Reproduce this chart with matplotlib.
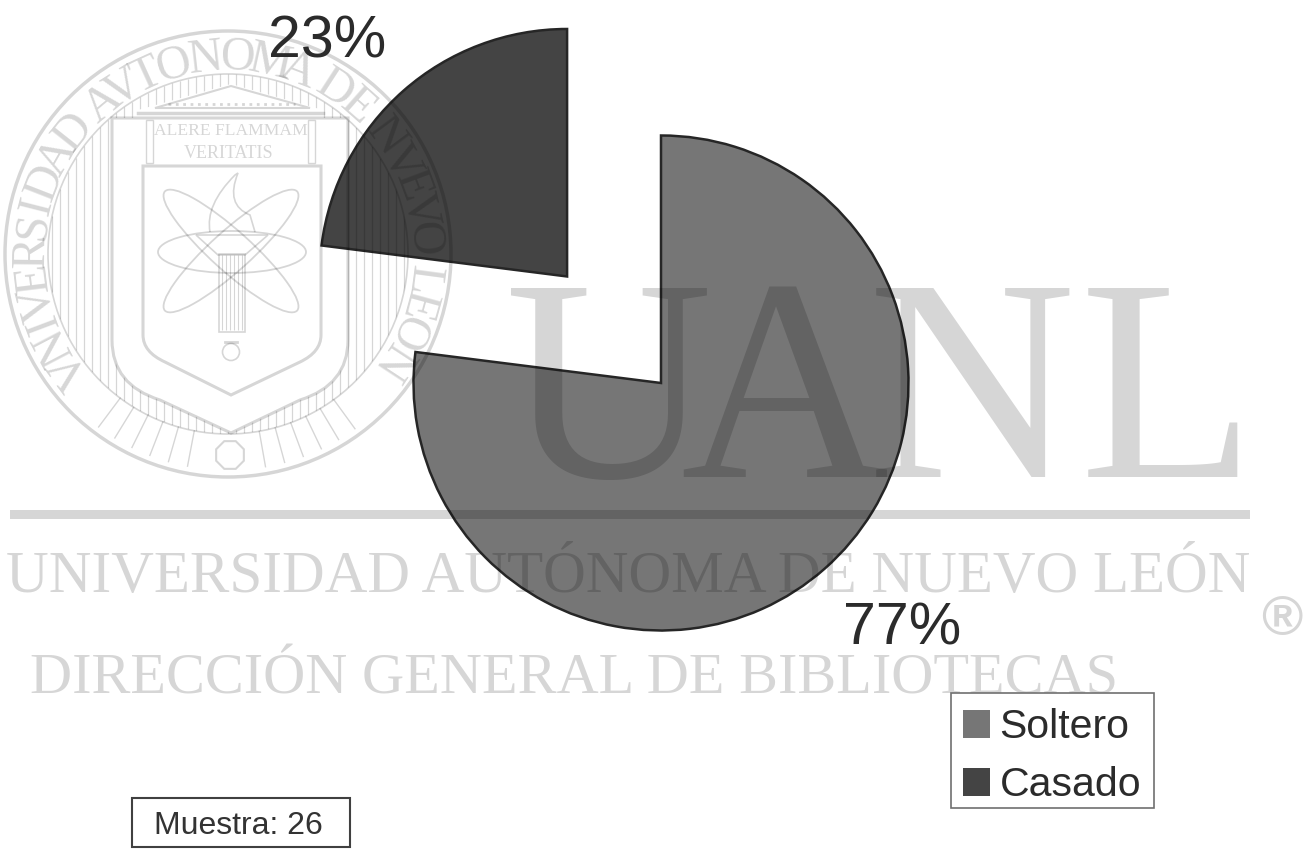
import numpy as np
import matplotlib
matplotlib.use("Agg")
from matplotlib import pyplot as plt
from matplotlib.collections import LineCollection
from matplotlib.patches import Circle, Ellipse, PathPatch, Polygon, Rectangle
from matplotlib.path import Path

categories = ['Soltero', 'Casado']
values = [77, 23]  # percent
colors = ['#767676', '#444444']
sample_label = 'Muestra: 26'

H = 849
WM = (0, 0, 0, 0.16)  # watermark grey, darkens the pie like the scan does
SERIF = 'Liberation Serif'
SANS = 'Liberation Sans'

plt.rcParams['font.family'] = SANS
fig = plt.figure(figsize=(13.11, 8.49), dpi=100)
ax = fig.add_axes([0, 0, 1, 1])


def Y(y):
    return H - y


def px(size):
    return size * 0.72


# pie
wedges, _ = ax.pie(values, explode=[0, 142], radius=247.5, center=(661, Y(383)),
                   startangle=90, counterclock=False, colors=colors,
                   labels=categories, labeldistance=None,
                   wedgeprops=dict(edgecolor='#262626', linewidth=1.8))
ax.set_xlim(0, 1311)
ax.set_ylim(0, H)
ax.set_aspect('auto')
ax.axis('off')

for wedge in wedges:
    wedge.set_zorder(1)

ax.text(327, Y(42), '%d%%' % values[1], fontsize=px(59), color='#2b2b2b',
        ha='center', va='center', zorder=5)
ax.text(902, Y(629), '%d%%' % values[0], fontsize=px(59), color='#2b2b2b',
        ha='center', va='center', zorder=5)

# big watermark
for letter, x in zip('UANL', [505, 680, 868, 1080]):
    ax.text(x, Y(477), letter, family=SERIF, fontsize=px(288), color=WM,
            ha='left', va='baseline', zorder=2)
ax.add_patch(Rectangle((10, Y(519)), 1240, 9, color=WM, lw=0, zorder=2))
ax.text(628, Y(592), 'UNIVERSIDAD AUTÓNOMA DE NUEVO LEÓN', family=SERIF,
        fontsize=px(59.2), color=WM, ha='center', va='baseline', zorder=2)
ax.text(574, Y(693), 'DIRECCIÓN GENERAL DE BIBLIOTECAS', family=SERIF,
        fontsize=px(58.4), color=WM, ha='center', va='baseline', zorder=2)
ax.text(1282, Y(621), '®', family=SANS, fontweight='bold', fontsize=px(56), color=WM,
        ha='center', va='center', zorder=2)

# seal
cx, cy = 228, 254
ax.add_patch(Circle((cx, Y(cy)), 223, fill=False, ec=WM, lw=2.5, zorder=2))
ax.add_patch(Circle((cx, Y(cy)), 180, fill=False, ec=WM, lw=1.2, zorder=2))

seal_text = 'VNIVERSIDAD AVTONOMA DE NVEVO LEON'
weights = np.array([0.45 if c == ' ' else (1.25 if c in 'MDON' else 0.6 if c == 'I' else 1.0)
                    for c in seal_text])
edges = np.concatenate([[0], np.cumsum(weights)]) / weights.sum()
mids = (edges[:-1] + edges[1:]) / 2
angles = -130 + mids * 258
for c, a in zip(seal_text, angles):
    r = np.radians(a)
    ax.text(cx + 196 * np.sin(r), Y(cy - 196 * np.cos(r)), c, family=SERIF,
            fontsize=px(48), color=WM, ha='center', va='center',
            rotation=-a, rotation_mode='anchor', zorder=2)

# outer shield outline
outer = Path([(112, Y(118)), (348, Y(118)), (348, Y(340)), (348, Y(385)), (300, Y(400)),
              (231, Y(433)), (160, Y(400)), (112, Y(385)), (112, Y(340)), (112, Y(118))],
             [Path.MOVETO, Path.LINETO, Path.LINETO, Path.CURVE3, Path.CURVE3,
              Path.LINETO, Path.LINETO, Path.CURVE3, Path.CURVE3, Path.CLOSEPOLY])
inner = Path([(143, Y(166)), (321, Y(166)), (321, Y(335)), (321, Y(352)), (300, Y(362)),
              (231, Y(395)), (165, Y(362)), (143, Y(352)), (143, Y(335)), (143, Y(166))],
             [Path.MOVETO, Path.LINETO, Path.LINETO, Path.CURVE3, Path.CURVE3,
              Path.LINETO, Path.LINETO, Path.CURVE3, Path.CURVE3, Path.CLOSEPOLY])
ax.add_patch(PathPatch(outer, fill=False, ec=WM, lw=2.2, zorder=2))
ax.add_patch(PathPatch(inner, fill=False, ec=WM, lw=2.2, zorder=2))

# vertical hatch inside the ring, outside the shield
xs = np.arange(cx - 176, cx + 177, 8)
half = np.sqrt(180 ** 2 - (xs - cx) ** 2)
hatch = [[(x, Y(cy - h)), (x, Y(cy + h))] for x, h in zip(xs, half)]
t = np.linspace(0, 2 * np.pi, 90)
ring = Path(np.column_stack([cx + 180 * np.cos(t), Y(cy) + 180 * np.sin(t)]))
hole = Path(outer.to_polygons()[0])
ped = Path([(138, Y(118)), (323, Y(118)), (323, Y(110)), (231, Y(84)), (138, Y(110)), (138, Y(118))][::-1])
clip = Path.make_compound_path(ring, hole, ped)
lines = LineCollection(hatch, colors=[WM], linewidths=0.9, zorder=2)
ax.add_collection(lines)
lines.set_clip_path(clip, ax.transData)

# radial ticks at the bottom of the ring
for a in np.arange(144, 217, 5.2):
    r = np.radians(a)
    if abs(a - 180) < 8:
        continue
    ax.plot([cx + 180 * np.sin(r), cx + 216 * np.sin(r)],
            [Y(cy - 180 * np.cos(r)), Y(cy - 216 * np.cos(r))],
            color=WM, lw=1, zorder=2)
t = np.linspace(0, 2 * np.pi, 9) + np.pi / 8
ax.add_patch(Polygon(np.column_stack([230 + 15 * np.cos(t), Y(455) + 15 * np.sin(t)]),
                     fill=False, ec=WM, lw=1.5, zorder=2))

# pediment and columns
ax.add_patch(Polygon([(155, Y(108)), (231, Y(86)), (310, Y(108))], fill=False, ec=WM, lw=1.5, zorder=2))
ax.plot([138, 323], [Y(113), Y(113)], color=WM, lw=2.5, zorder=2)
ax.plot([168, 295], [Y(104), Y(104)], color=WM, lw=2, ls=':', zorder=2)
for x in [146, 308]:
    ax.add_patch(Rectangle((x, Y(163)), 7, 43, fill=False, ec=WM, lw=1, zorder=2))
ax.text(231, Y(131), 'ALERE FLAMMAM', family=SERIF, fontsize=px(17.5), color=WM,
        ha='center', va='center', zorder=2)
ax.text(229, Y(153), 'VERITATIS', family=SERIF, fontsize=px(18), color=WM,
        ha='center', va='center', zorder=2)

# atom and torch
ax.add_patch(Ellipse((232, Y(252)), 148, 42, fill=False, ec=WM, lw=1.3, zorder=2))
for angle in [42, -42]:
    ax.add_patch(Ellipse((231, Y(251)), 178, 40, angle=angle, fill=False, ec=WM, lw=1.3, zorder=2))
ax.add_patch(Polygon([(196, Y(235)), (268, Y(235)), (245, Y(255)), (218, Y(255))],
                     fill=False, ec=WM, lw=1.2, zorder=2))
ax.add_patch(Rectangle((219, Y(332)), 26, 78, fill=False, ec=WM, lw=1.2, zorder=2))
ax.add_patch(Circle((231, Y(352)), 8.5, fill=False, ec=WM, lw=1.2, zorder=2))
ax.plot([225, 237], [Y(342), Y(342)], color=WM, lw=2, zorder=2)
ax.add_collection(LineCollection([[(x, Y(255)), (x, Y(330))] for x in range(222, 245, 4)],
                                 colors=[WM], linewidths=0.8, zorder=2))
flame = Path([(210, Y(232)), (205, Y(205)), (235, Y(175)), (238, Y(173)), (225, Y(205)), (250, Y(215)),
              (255, Y(232))],
             [Path.MOVETO, Path.CURVE3, Path.CURVE3, Path.LINETO, Path.CURVE3, Path.CURVE3, Path.LINETO])
ax.add_patch(PathPatch(flame, fill=False, ec=WM, lw=1.2, zorder=2))

# legend, frame drawn apart so the rows can sit where they do in the scan
ax.add_patch(Rectangle((951, Y(808)), 203, 115, fc='white', ec='#707070', lw=1.2, zorder=5.5))
leg = ax.legend(wedges, categories, loc='lower left', bbox_to_anchor=(962.5, Y(804)),
                bbox_transform=ax.transData, fontsize=px(41), frameon=False, handlelength=0.68,
                handleheight=0.68, handletextpad=0.22, labelspacing=0.48, borderpad=0,
                borderaxespad=0)
leg.set_zorder(6)
for text in leg.get_texts():
    text.set_color('#2b2b2b')
for handle in leg.get_patches():
    handle.set_edgecolor('none')

# sample box
ax.add_patch(Rectangle((132, Y(847)), 218, 49, fc='white', ec='#404040', lw=1.5, zorder=6))
ax.text(238, Y(826), sample_label, fontsize=px(32), color='#333333',
        ha='center', va='center', zorder=7)

fig.savefig('out.png', dpi=100)
